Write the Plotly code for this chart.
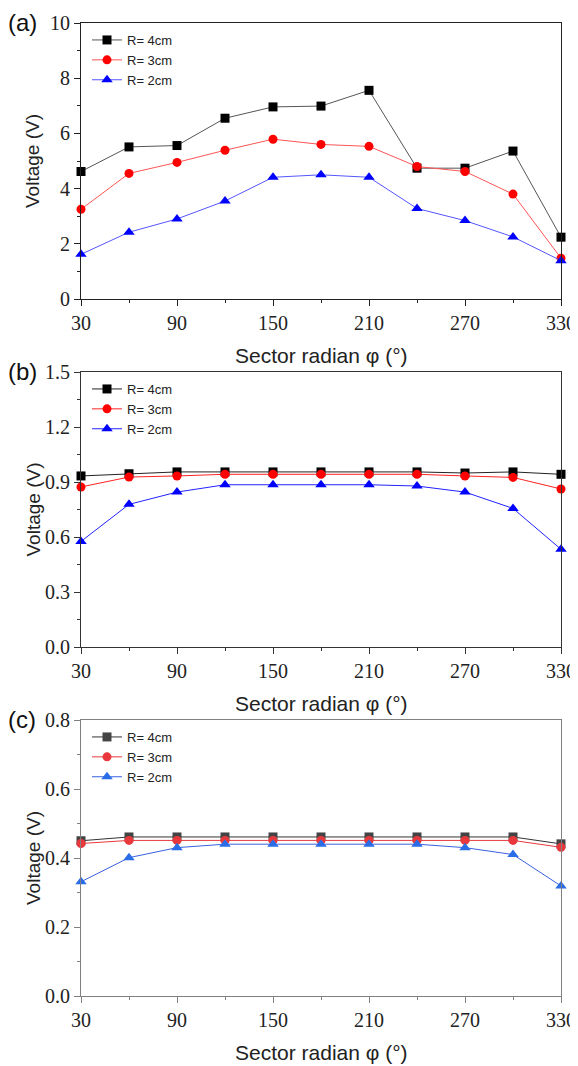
import plotly.graph_objects as go

# sector angle (degrees)
phi = [30, 60, 90, 120, 150, 180, 210, 240, 270, 300, 330]
names = ["R= 4cm", "R= 3cm", "R= 2cm"]

# panel (a)
a_r4 = [4.62, 5.51, 5.56, 6.55, 6.96, 6.99, 7.56, 4.74, 4.74, 5.36, 2.24]
a_r3 = [3.25, 4.55, 4.95, 5.39, 5.79, 5.60, 5.53, 4.80, 4.62, 3.80, 1.48]
a_r2 = [1.62, 2.42, 2.90, 3.55, 4.41, 4.50, 4.41, 3.28, 2.84, 2.25, 1.39]

# panel (b)
b_r4 = [0.933, 0.945, 0.955, 0.955, 0.955, 0.955, 0.955, 0.955, 0.949, 0.955, 0.942]
b_r3 = [0.873, 0.927, 0.933, 0.942, 0.942, 0.942, 0.942, 0.942, 0.933, 0.925, 0.862]
b_r2 = [0.576, 0.778, 0.845, 0.885, 0.885, 0.885, 0.885, 0.878, 0.845, 0.756, 0.533]

# panel (c)
c_r4 = [0.450, 0.461, 0.461, 0.461, 0.461, 0.461, 0.461, 0.461, 0.461, 0.461, 0.441]
c_r3 = [0.442, 0.451, 0.451, 0.451, 0.451, 0.451, 0.451, 0.451, 0.451, 0.451, 0.431]
c_r2 = [0.331, 0.401, 0.430, 0.440, 0.440, 0.440, 0.440, 0.440, 0.430, 0.410, 0.319]

# the page body has an 8px margin, so layout is given in page pixels and shifted
OFF = 8
W, H = 570, 1058
X0, X1 = 81, 561


def px(x):
    return (x - OFF) / W


def py(y):
    return 1 - (y - OFF) / H


panels = [
    # label, series, top px, bottom px, y range, dtick, frame, marker colours, line colours
    ("(a)", [a_r4, a_r3, a_r2], 23, 299, [0, 10], 2, "#222222",
     ["#000000", "#ff0000", "#0000ff"], ["#555555", "#ff5555", "#5555ff"]),
    ("(b)", [b_r4, b_r3, b_r2], 372, 647, [0, 1.5], 0.3, "#333333",
     ["#000000", "#ff0000", "#0000ff"], ["#222222", "#ff2222", "#2222ff"]),
    ("(c)", [c_r4, c_r3, c_r2], 720, 996, [0, 0.8], 0.2, "#808080",
     ["#444444", "#e8383c", "#2a6de6"], ["#333333", "#e8383c", "#3a60e0"]),
]
symbols = ["square", "circle", "triangle-up"]
msizes = [9, 9, 10]

sans = "Liberation Sans"
fig = go.Figure()
layout = dict(
    width=W, height=H,
    margin=dict(l=0, r=0, t=0, b=0, autoexpand=False),
    paper_bgcolor="white", plot_bgcolor="white",
    annotations=[],
)

for i, (label, series, top, bot, yr, dt, frame, mcols, lcols) in enumerate(panels):
    n = "" if i == 0 else str(i + 1)
    xa, ya = "x" + n, "y" + n
    leg = "legend" + n
    for s, name, sym, ms, mc, lc in zip(series, names, symbols, msizes, mcols, lcols):
        fig.add_trace(go.Scatter(
            x=phi, y=s, name=name, mode="lines+markers",
            xaxis=xa, yaxis=ya, legend=leg, cliponaxis=False,
            line=dict(color=lc, width=1),
            marker=dict(symbol=sym, size=ms, color=mc),
        ))
    tickfont = dict(family="Liberation Serif", size=20, color="#222")
    layout["xaxis" + n] = dict(
        domain=[px(X0), px(X1)], anchor=ya, range=[30, 330],
        tick0=30, dtick=60, ticks="outside", ticklen=6, tickcolor=frame,
        minor=dict(dtick=30, tick0=30, ticks="outside", ticklen=3, tickcolor=frame),
        showline=True, linecolor=frame, linewidth=1.2, mirror=True,
        showgrid=False, zeroline=False, tickfont=tickfont, automargin=False,
    )
    layout["yaxis" + n] = dict(
        domain=[py(bot), py(top)], anchor=xa, range=yr, dtick=dt,
        tickformat=".1f" if i > 0 else "d",
        ticks="outside", ticklen=6, tickcolor=frame,
        minor=dict(dtick=dt / 2, ticks="outside", ticklen=3, tickcolor=frame),
        showline=True, linecolor=frame, linewidth=1.2, mirror=True,
        showgrid=False, zeroline=False, tickfont=tickfont, automargin=False,
    )
    layout[leg] = dict(
        x=px(X0 + 6), y=py(top + 2), xanchor="left", yanchor="top",
        bgcolor="rgba(0,0,0,0)", borderwidth=0,
        font=dict(family=sans, size=13, color="#222"),
        tracegroupgap=0, itemwidth=30,
    )
    layout["annotations"] += [
        dict(text=label, x=px(6), y=py(top - 1), xref="paper", yref="paper",
             xanchor="left", yanchor="middle", showarrow=False,
             font=dict(family=sans, size=24, color="#111")),
        dict(text="Sector radian φ (°)", x=px((X0 + X1) / 2), y=py(bot + 56),
             xref="paper", yref="paper", xanchor="center", yanchor="middle",
             showarrow=False, font=dict(family=sans, size=21, color="#222")),
        dict(text="Voltage (V)", x=px(33), y=py((top + bot) / 2), textangle=-90,
             xref="paper", yref="paper", xanchor="center", yanchor="middle",
             showarrow=False, font=dict(family=sans, size=19, color="#222")),
    ]

fig.update_layout(**layout)
fig.write_html("out.html")
